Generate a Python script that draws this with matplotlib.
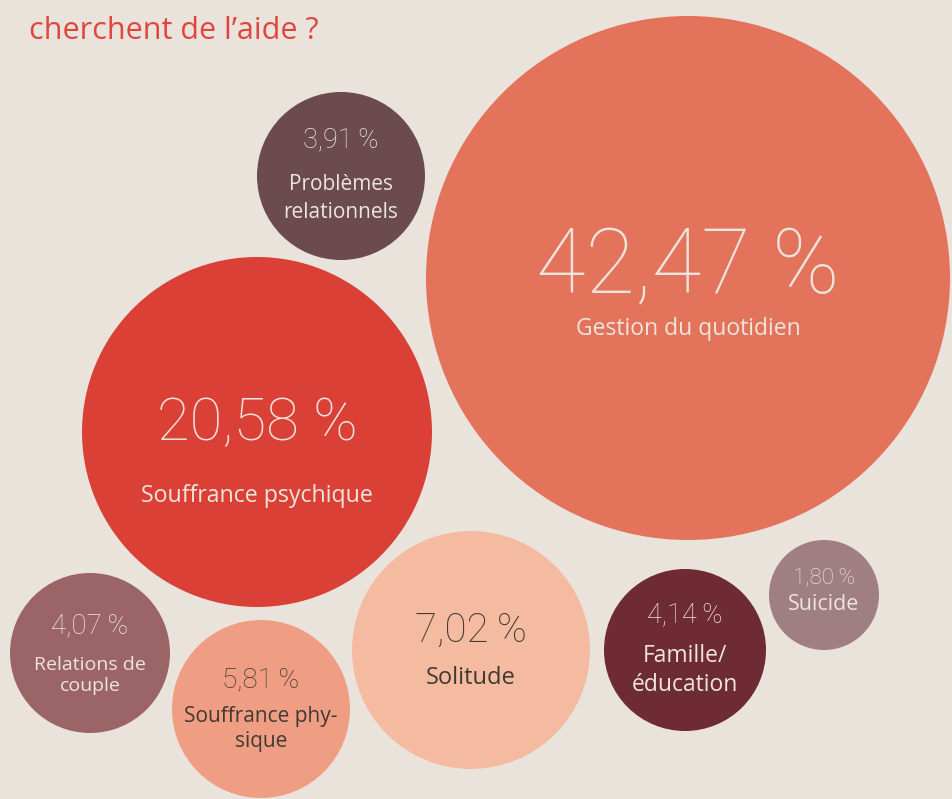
import matplotlib
matplotlib.use('Agg')
import matplotlib.pyplot as plt
from matplotlib.patches import Circle

# Données
categories = ['Gestion du quotidien', 'Souffrance psychique', 'Problèmes\nrelationnels',
              'Relations de\ncouple', 'Souffrance phy-\nsique', 'Solitude',
              'Famille/\néducation', 'Suicide']
values = [42.47, 20.58, 3.91, 4.07, 5.81, 7.02, 4.14, 1.80]

# Mise en page (pixels, origine en haut à gauche)
centers = [(688, 278), (257, 432), (341, 176), (90, 653), (261, 709),
           (471, 650), (685, 650), (824, 595)]
radii = [262, 175, 84, 80, 89, 119, 81, 55]
colors = ['#E4735B', '#DB4037', '#6B4B50', '#9B6568', '#EF9E83',
          '#F5BBA1', '#6E2B33', '#A07F84']
text_colors = ['#EDE5DD', '#EDE5DD', '#EDE5DD', '#EDE5DD', '#3F3A33',
               '#3F3A33', '#EDE5DD', '#EDE5DD']
num_sizes = [65, 43, 19.5, 20, 20, 29, 19.5, 16]
lab_sizes = [16.5, 16.7, 15, 14, 15, 17, 16.5, 15.4]
num_base = [15, 8, -29, -20, -22, -8, -28, -12]     # ligne de base du pourcentage
lab_base = [57, 70, 14, 17, 13, 34, 12, 15]         # ligne de base de la 1re ligne
lab_pitch = [0, 0, 28, 21, 25, 0, 29, 0]

BG = '#EAE3DC'
NUM_FONT = 'Roboto'
LAB_FONT = 'Open Sans'

fig = plt.figure(figsize=(9.53, 7.99), dpi=100)
fig.patch.set_facecolor(BG)
ax = fig.add_axes([0, 0, 1, 1])
ax.set_facecolor(BG)
ax.set_xlim(0, 953)
ax.set_ylim(799, 0)
ax.set_aspect('equal')
ax.axis('off')

for i, (cat, val) in enumerate(zip(categories, values)):
    cx, cy = centers[i]
    tc = text_colors[i]
    ax.add_patch(Circle((cx, cy), radii[i], facecolor=colors[i], edgecolor='none'))
    sep = ' ' if val > 10 else '\u2009'
    label = f'{val:.2f}'.replace('.', ',') + sep + '%'
    ax.text(cx, cy + num_base[i], label, ha='center', va='baseline', color=tc,
            fontsize=num_sizes[i], fontfamily=NUM_FONT, fontweight='light')
    for k, line in enumerate(cat.split('\n')):
        ax.text(cx, cy + lab_base[i] + k * lab_pitch[i], line, ha='center',
                va='baseline', color=tc, fontsize=lab_sizes[i], fontfamily=LAB_FONT)

ax.text(29, 39, 'cherchent de l\u2019aide ?', ha='left', va='baseline',
        color='#E0463E', fontsize=22, fontfamily=LAB_FONT)

fig.savefig('out.png', dpi=100, facecolor=BG)
